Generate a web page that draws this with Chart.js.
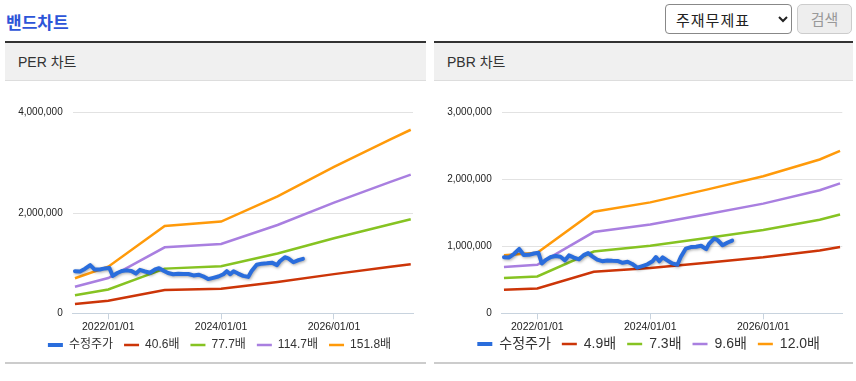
<!DOCTYPE html>
<html lang="ko">
<head>
<meta charset="utf-8">
<title>밴드차트</title>
<script src="https://cdn.jsdelivr.net/npm/chart.js@4/dist/chart.umd.min.js"></script>
<style>
  body { margin: 0; width: 856px; height: 381px; background: #fff; position: relative; overflow: hidden;
    font-family: "Liberation Sans", "Noto Sans CJK KR", sans-serif; }
  .title { position: absolute; left: 6px; top: 9px; font-size: 17px; font-weight: bold; color: #2d55d8;
    font-family: "Noto Sans CJK KR", sans-serif; }
  select { position: absolute; left: 665px; top: 4px; width: 127px; height: 30px; font-size: 15px;
    border: 1px solid #888; border-radius: 4px; background: #fff; color: #222; padding-left: 6px;
    letter-spacing: 1px; font-family: "Noto Sans CJK KR", sans-serif; }
  .btn { position: absolute; left: 797px; top: 4px; width: 53px; height: 28px; line-height: 28px; text-align: center;
    font-size: 15px; color: #999; background: #eee; border: 1px solid #ccc; border-radius: 5px;
    font-family: "Noto Sans CJK KR", sans-serif; }
  .panel { position: absolute; top: 41px; height: 323px; }
  .panel .bar { height: 2px; background: #333; }
  .panel .head { height: 37px; line-height: 38px; background: #f0f0f0; border-bottom: 1px solid #ddd;
    font-size: 14px; color: #333; padding-left: 13px; }
  .panel .box { position: absolute; left: 0; right: 0; top: 40px; height: 300px; }
  .panel .foot { position: absolute; left: 0; right: 0; top: 321px; height: 2px; background: #ccc; }
</style>
</head>
<body>
<div class="title">밴드차트</div>
<select><option>주재무제표</option></select>
<div class="btn">검색</div>

<div class="panel" style="left:5px; width:421px">
  <div class="bar"></div>
  <div class="head">PER 차트</div>
  <div class="foot"></div>
  <div class="box"><canvas id="perChart"></canvas></div>
</div>

<div class="panel" style="left:434px; width:419px">
  <div class="bar"></div>
  <div class="head">PBR 차트</div>
  <div class="foot"></div>
  <div class="box"><canvas id="pbrChart"></canvas></div>
</div>

<script>
// x positions are decimal years
const xTickYears = [2022, 2024, 2026];
const bandYears = [2021.41, 2022.0, 2023.0, 2024.0, 2025.0, 2026.0, 2027.0, 2027.36];

const priceYears = [
  2021.41, 2021.50, 2021.59, 2021.68, 2021.76, 2021.85, 2021.94, 2022.02, 2022.08, 2022.16,
  2022.24, 2022.33, 2022.41, 2022.49, 2022.56, 2022.65, 2022.74, 2022.83, 2022.90, 2022.98,
  2023.06, 2023.15, 2023.24, 2023.33, 2023.42, 2023.51, 2023.60, 2023.68, 2023.77, 2023.86,
  2023.95, 2024.04, 2024.10, 2024.16, 2024.22, 2024.30, 2024.39, 2024.48, 2024.54, 2024.63,
  2024.72, 2024.81, 2024.90, 2024.99, 2025.04, 2025.13, 2025.19, 2025.28, 2025.37, 2025.45
];
const price = [
  840000, 835000, 890000, 962000, 872000, 874000, 895000, 904000, 745000, 803000,
  843000, 856000, 845000, 792000, 866000, 834000, 808000, 874000, 900000, 848000,
  803000, 780000, 790000, 785000, 784000, 755000, 770000, 738000, 682000, 707000,
  733000, 778000, 841000, 778000, 837000, 792000, 746000, 726000, 842000, 968000,
  990000, 996000, 1010000, 960000, 1038000, 1118000, 1096000, 1018000, 1059000, 1087000
];

const perLabels = ['40.6배', '77.7배', '114.7배', '151.8배'];
const per40 = [187000, 249000, 465000, 490000, 623000, 781000, 928000, 979000];
const per77 = [358000, 476000, 891000, 937000, 1193000, 1495000, 1776000, 1874000];
const per114 = [529000, 703000, 1315000, 1383000, 1761000, 2206000, 2622000, 2766000];
const per151 = [700000, 930000, 1740000, 1830000, 2330000, 2920000, 3470000, 3660000];

const pbrLabels = ['4.9배', '7.3배', '9.6배', '12.0배'];
const pbr49 = [354000, 370000, 620000, 677000, 755000, 837000, 939000, 992000];
const pbr73 = [527000, 551000, 924000, 1009000, 1125000, 1247000, 1399000, 1478000];
const pbr96 = [694000, 725000, 1215000, 1327000, 1480000, 1640000, 1840000, 1944000];
const pbr120 = [867000, 906000, 1519000, 1659000, 1850000, 2050000, 2300000, 2430000];

const bandColors = ['#cc3508', '#86c322', '#a97fe0', '#ff9a0a'];
const priceColor = '#2a6ddc';

Chart.defaults.font.family = '"Liberation Sans", "Noto Sans CJK KR", sans-serif';

function points(xs, ys) {
  return xs.map((x, i) => ({ x: x, y: ys[i] }));
}

// soft shadow under the price line
const shadowPlugin = {
  id: 'priceShadow',
  beforeDatasetDraw(chart, args) {
    if (args.index !== 0) return;
    const ctx = chart.ctx;
    ctx.save();
    ctx.shadowColor = 'rgba(0,0,0,0.35)';
    ctx.shadowBlur = 3;
    ctx.shadowOffsetX = 1;
    ctx.shadowOffsetY = 1;
  },
  afterDatasetDraw(chart, args) {
    if (args.index !== 0) return;
    chart.ctx.restore();
  }
};

// nudge the legend box after layout (legend sits closer to the axis than chart.js puts it)
const legendShift = {
  id: 'legendShift',
  afterLayout(chart, args, opts) {
    const lg = chart.legend;
    lg.left += opts.dx; lg.right += opts.dx;
    lg.top += opts.dy; lg.bottom += opts.dy;
  }
};

function makeChart(id, labels, bands, yMax, yStep, legendSize, pad, shift) {
  const datasets = [{
    label: '수정주가',
    data: points(priceYears, price),
    borderColor: priceColor,
    backgroundColor: priceColor,
    borderWidth: 4,
    borderJoinStyle: 'round',
    borderCapStyle: 'round',
    pointRadius: 0
  }];
  bands.forEach((vals, i) => {
    datasets.push({
      label: labels[i],
      data: points(bandYears, vals),
      borderColor: bandColors[i],
      backgroundColor: bandColors[i],
      borderWidth: 2.5,
      pointRadius: 0
    });
  });

  return new Chart(document.getElementById(id), {
    type: 'line',
    data: { datasets: datasets },
    options: {
      responsive: true,
      maintainAspectRatio: false,
      animation: false,
      layout: { padding: pad },
      plugins: {
        legend: {
          position: 'bottom',
          labels: {
            usePointStyle: true,
            pointStyle: 'line',
            pointStyleWidth: 15,
            padding: 11,
            color: '#333',
            font: { size: legendSize }
          }
        },
        legendShift: shift,
        tooltip: { enabled: false }
      },
      scales: {
        x: {
          type: 'linear',
          min: 2021.37,
          max: 2027.40,
          afterBuildTicks: (s) => { s.ticks = xTickYears.map(v => ({ value: v })); },
          afterFit: (s) => { s.height = 21; },
          grid: { drawOnChartArea: false, color: '#c8d3de', tickLength: 6 },
          border: { color: '#c8d3de' },
          ticks: {
            callback: (v) => v + '/01/01',
            maxRotation: 0,
            autoSkip: false,
            color: '#222',
            padding: 2,
            font: { size: 10.5 }
          }
        },
        y: {
          min: 0,
          max: yMax,
          afterFit: (s) => { s.width = 67.7; },
          grid: { color: '#e2e2e2', drawTicks: false },
          border: { display: false },
          ticks: {
            stepSize: yStep,
            callback: (v) => v.toLocaleString('en-US'),
            padding: 10,
            color: '#222',
            font: { size: 10 }
          }
        }
      }
    },
    plugins: [shadowPlugin, legendShift]
  });
}

makeChart('perChart', perLabels, [per40, per77, per114, per151], 4000000, 2000000, 12,
  { top: 31.7, right: 13, left: 0, bottom: 13.7 }, { dx: 10.5, dy: -6.3 });
makeChart('pbrChart', pbrLabels, [pbr49, pbr73, pbr96, pbr120], 3000000, 1000000, 14,
  { top: 31.7, right: 10.7, left: 0, bottom: 11.7 }, { dx: 10.5, dy: -8.3 });
</script>
</body>
</html>
